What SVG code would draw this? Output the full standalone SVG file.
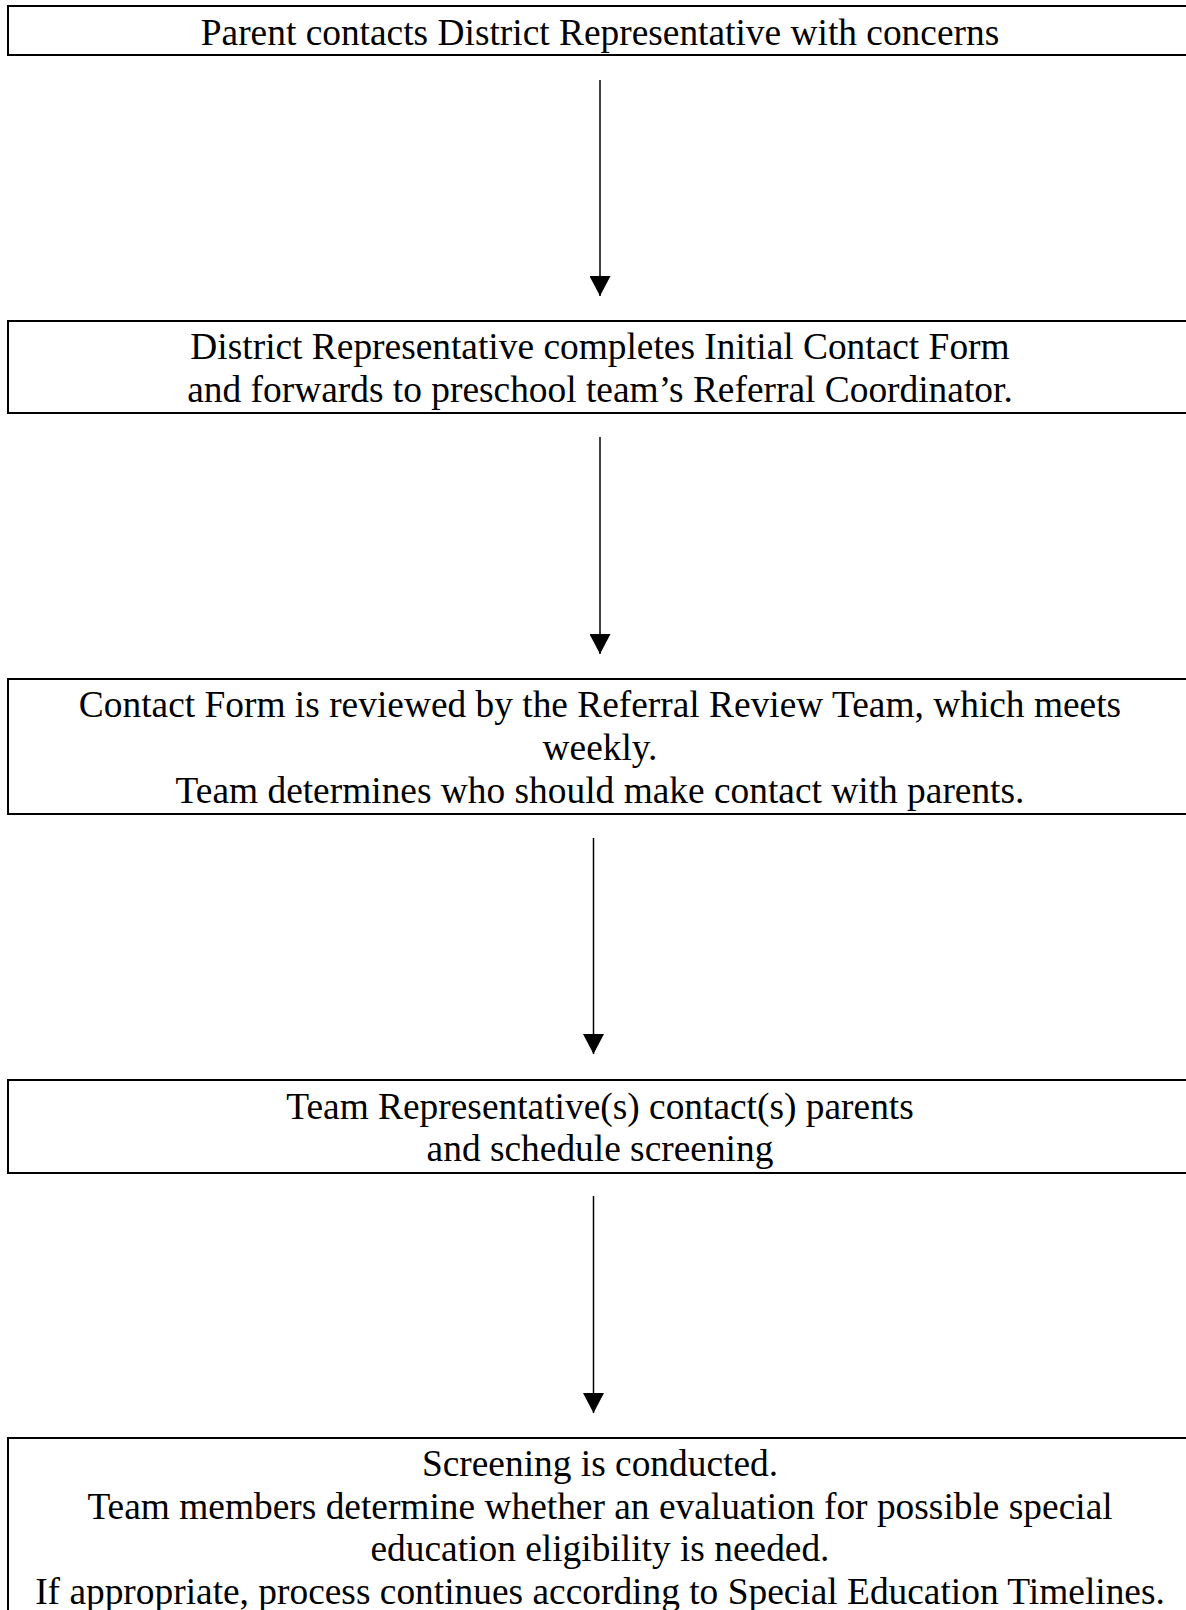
<svg xmlns="http://www.w3.org/2000/svg" width="1186" height="1610" viewBox="0 0 1186 1610">
<style>
.box{fill:#fff;stroke:#000;stroke-width:2}
.t{font-family:"Liberation Serif","Times New Roman",serif;font-size:37.4px;fill:#000;text-anchor:middle}
.c{stroke:#000;stroke-width:1.5;fill:none}
</style>
<defs>
<marker id="ah" markerUnits="userSpaceOnUse" markerWidth="21" markerHeight="21" refX="20" refY="10.5" orient="auto" viewBox="0 0 21 21">
<path d="M0,0 L20,10.5 L0,21 Z" fill="#000"/>
</marker>
</defs>
<rect width="1186" height="1610" fill="#fff"/>
<g id="n1">
<rect class="box" x="8" y="6" width="1184" height="49"/>
<text class="t" x="600" y="45">Parent contacts District Representative with concerns</text>
</g>
<g id="n2">
<rect class="box" x="8" y="321" width="1184" height="92"/>
<text class="t" x="600" y="359">District Representative completes Initial Contact Form</text>
<text class="t" x="600" y="402">and forwards to preschool team’s Referral Coordinator.</text>
</g>
<g id="n3">
<rect class="box" x="8" y="679" width="1184" height="135"/>
<text class="t" x="600" y="717">Contact Form is reviewed by the Referral Review Team, which meets</text>
<text class="t" x="600" y="760">weekly.</text>
<text class="t" x="600" y="803">Team determines who should make contact with parents.</text>
</g>
<g id="n4">
<rect class="box" x="8" y="1080" width="1184" height="93"/>
<text class="t" x="600" y="1119">Team Representative(s) contact(s) parents</text>
<text class="t" x="600" y="1161">and schedule screening</text>
</g>
<g id="n5">
<rect class="box" x="8" y="1438" width="1184" height="200"/>
<text class="t" x="600" y="1476">Screening is conducted.</text>
<text class="t" x="600" y="1519">Team members determine whether an evaluation for possible special</text>
<text class="t" x="600" y="1561">education eligibility is needed.</text>
<text class="t" x="600" y="1604">If appropriate, process continues according to Special Education Timelines.</text>
</g>
<g id="connectors">
<line class="c" x1="600" y1="80" x2="600" y2="296" marker-end="url(#ah)"/>
<line class="c" x1="600" y1="437" x2="600" y2="654" marker-end="url(#ah)"/>
<line class="c" x1="593.5" y1="838" x2="593.5" y2="1054" marker-end="url(#ah)"/>
<line class="c" x1="593.5" y1="1196" x2="593.5" y2="1413" marker-end="url(#ah)"/>
</g>
</svg>
